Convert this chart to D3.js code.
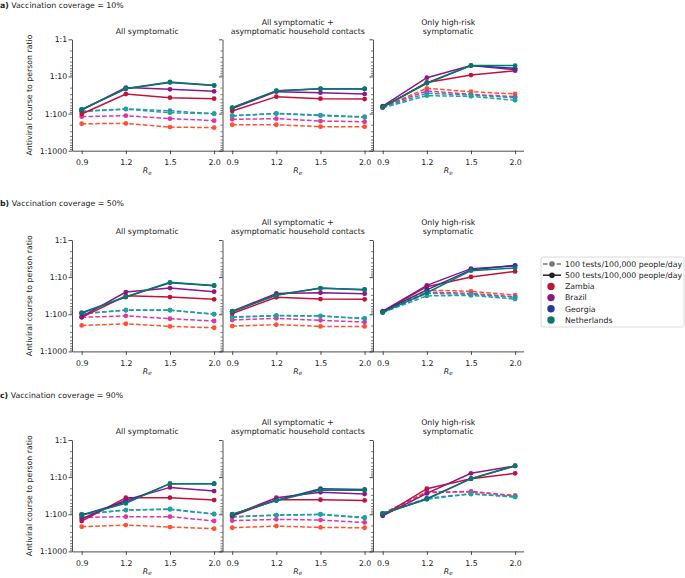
<!DOCTYPE html>
<html>
<head>
<meta charset="utf-8">
<script src="https://cdn.jsdelivr.net/npm/d3@7"></script>
<style>
  body { margin: 0; background: #fff; }
  svg { font-family: "DejaVu Sans", sans-serif; }
</style>
</head>
<body>
<svg id="chart"></svg>
<script>
// Kategorien / Beschriftungen
const reLabels = ["0.9", "1.2", "1.5", "2.0"];
const countries = ["Zambia", "Brazil", "Georgia", "Netherlands"];
const coverages = ["10%", "50%", "90%"];
const panelLetters = ["a)", "b)", "c)"];
const strategies = [
    ["All symptomatic"],
    ["All symptomatic +", "asymptomatic household contacts"],
    ["Only high-risk", "symptomatic"]
];
const testLevels = ["100 tests/100,000 people/day", "500 tests/100,000 people/day"];
const yTicks = [1, 10, 100, 1000];

// Werte = N in "1:N", Zeilen: Zambia, Brazil, Georgia, Netherlands; Spalten: Re
const cov10_allSymp_100 = [[188, 184, 231, 240], [121, 114, 137, 155], [86, 75, 84, 101], [88, 76, 95, 101]];
const cov10_allSymp_500 = [[103, 29.7, 37.3, 39.7], [80, 20, 22.3, 25.2], [78, 21.5, 14.5, 17.6], [77, 21, 14.1, 17.4]];
const cov10_allSympHH_100 = [[200, 200, 226, 226], [143, 137, 159, 166], [114, 99, 110, 122], [116, 100, 114, 126]];
const cov10_allSympHH_500 = [[85.5, 35, 39.7, 40.6], [73, 25.7, 27.4, 29.8], [70, 24.5, 21.6, 21.8], [69.5, 24.2, 21.4, 21.4]];
const cov10_highRisk_100 = [[66, 20.9, 25.8, 29.7], [65, 24.7, 30.3, 35], [68, 28.5, 31.6, 37.5], [70, 33, 34.4, 44]];
const cov10_highRisk_500 = [[68, 14.5, 9.2, 7.0], [63, 10.8, 5.1, 6.6], [66, 15, 5.1, 6.0], [67, 15.3, 5.1, 5.1]];

const cov50_allSymp_100 = [[200, 180, 212, 231], [121, 110, 132, 152], [95, 78, 78, 100], [97, 77, 77, 99]];
const cov50_allSymp_500 = [[121, 31.7, 34.4, 39.7], [116, 25.2, 19.7, 24.7], [93, 34.5, 14.2, 17], [91, 33.7, 13.8, 16.7]];
const cov50_allSympHH_100 = [[208, 191, 212, 212], [143, 129, 146, 162], [118, 108, 110, 132], [121, 110, 112, 129]];
const cov50_allSympHH_500 = [[95, 35, 39, 39.7], [83, 27.4, 26.3, 28], [86, 30, 20, 21.5], [84, 31, 19.7, 22.3]];
const cov50_highRisk_100 = [[88, 22.3, 24.2, 30.4], [88, 25.2, 27.4, 33.7], [89, 27.4, 29, 35], [90, 32, 31, 39]];
const cov50_highRisk_500 = [[86, 18.1, 9.9, 7.0], [83, 16.7, 5.9, 5.0], [85, 22, 6.4, 4.8], [89, 26.3, 6.7, 5.7]];

const cov90_allSymp_100 = [[217, 195, 221, 245], [121, 116, 116, 152], [99, 77, 72, 97], [101, 77, 74, 100]];
const cov90_allSymp_500 = [[152, 35.8, 35.8, 41.4], [132, 41.4, 18.9, 23.7], [104, 47, 15, 15], [107, 51, 15, 15]];
const cov90_allSympHH_100 = [[231, 208, 226, 231], [149, 137, 143, 166], [116, 105, 100, 122], [118, 106, 102, 126]];
const cov90_allSympHH_500 = [[112, 40.6, 40.6, 42.3], [107, 35.8, 25.7, 28.5], [101, 42, 20.5, 21.5], [99, 43, 22.3, 22.7]];
const cov90_highRisk_100 = [[96, 24.7, 25.2, 31], [96, 26.3, 24.2, 32.3], [95, 37, 28, 33.5], [95, 39, 28.5, 34.4]];
const cov90_highRisk_500 = [[108, 20.5, 11, 7.9], [110, 27.4, 7.9, 5.0], [98, 38, 11, 5.0], [95, 39.7, 11, 4.9]];

// [Impfquote][Strategie] -> [100 Tests, 500 Tests]
const panels = [
    [[cov10_allSymp_100, cov10_allSymp_500], [cov10_allSympHH_100, cov10_allSympHH_500], [cov10_highRisk_100, cov10_highRisk_500]],
    [[cov50_allSymp_100, cov50_allSymp_500], [cov50_allSympHH_100, cov50_allSympHH_500], [cov50_highRisk_100, cov50_highRisk_500]],
    [[cov90_allSymp_100, cov90_allSymp_500], [cov90_allSympHH_100, cov90_allSympHH_500], [cov90_highRisk_100, cov90_highRisk_500]]
];

// Farben
const solidColors = ["#c3123a", "#8c168c", "#26399a", "#0a7a68"];
const dashColors = ["#ff5230", "#db38a2", "#2f8cbd", "#22a19e"];

// Layout
const width = 685, height = 578;
const rowTops = [39.3, 240, 440];
const titleBase = [7.5, 205.5, 398];
const colLefts = [72, 222.5, 373];
const axW = 150.5, axH = 111.4;
const fs = "7.8px";

const svg = d3.select("#chart")
    .attr("width", width)
    .attr("height", height);

const x = d3.scaleLinear().domain([-0.22, 3.19]).range([0, axW]);
const y = d3.scaleLog().domain([1, 1000]).range([0, axH]);

const minorTicks = [];
[1, 10, 100].forEach(d => { for (let k = 2; k < 10; k++) minorTicks.push(d * k); });

const line = d3.line()
    .x((d, j) => x(j))
    .y(d => y(d));

function styleAxis(g) {
    g.attr("font-family", null).attr("font-size", fs);
    g.selectAll("path, line").attr("stroke", "#222").attr("stroke-width", 0.8);
    g.selectAll("text").attr("fill", "#222");
}

panels.forEach((row, r) => {
    // Überschrift
    const t = svg.append("text")
        .attr("x", 0)
        .attr("y", titleBase[r])
        .attr("font-size", fs)
        .attr("fill", "#222");
    t.append("tspan").attr("font-weight", "bold").text(panelLetters[r]);
    t.append("tspan").text(" Vaccination coverage = " + coverages[r]);

    row.forEach((levels, c) => {
        const g = svg.append("g")
            .attr("transform", `translate(${colLefts[c]}, ${rowTops[r]})`);

        // Achsen
        g.append("g")
            .attr("transform", `translate(0, ${axH})`)
            .call(d3.axisBottom(x).tickValues([0, 1, 2, 3]).tickFormat(i => reLabels[i])
                .tickSize(3.5).tickPadding(5.4).tickSizeOuter(0))
            .call(styleAxis);

        g.append("g")
            .call(d3.axisLeft(y).tickValues(minorTicks).tickFormat("").tickSize(2).tickSizeOuter(0))
            .call(styleAxis)
            .call(a => a.select(".domain").remove())
            .call(a => a.selectAll("line").attr("stroke-width", 0.6));

        g.append("g")
            .call(d3.axisLeft(y).tickValues(yTicks).tickFormat(c === 0 ? d => "1:" + d : "")
                .tickSize(3.5).tickPadding(1.3).tickSizeOuter(0))
            .call(styleAxis);

        // Untertitel
        const sub = strategies[c];
        sub.forEach((s, k) => {
            g.append("text")
                .attr("x", axW / 2)
                .attr("y", -5.8 - (sub.length - 1 - k) * 8.8)
                .attr("text-anchor", "middle")
                .attr("font-size", fs)
                .attr("fill", "#222")
                .text(s);
        });

        // X Label
        const xl = g.append("text")
            .attr("x", axW / 2)
            .attr("y", axH + 22.5)
            .attr("text-anchor", "middle")
            .attr("font-size", fs)
            .attr("font-style", "italic")
            .attr("fill", "#222");
        xl.append("tspan").text("R");
        xl.append("tspan").attr("font-size", "5.6px").attr("dy", 1.4).text("e");

        // Y Label
        if (c === 0) {
            g.append("text")
                .attr("transform", `translate(${31.8 - colLefts[0]}, ${axH / 2}) rotate(-90)`)
                .attr("text-anchor", "middle")
                .attr("font-size", fs)
                .attr("fill", "#222")
                .text("Antiviral course to person ratio");
        }

        // Linien: erst 100 Tests (gestrichelt), dann 500 Tests
        levels.forEach((series, lv) => {
            series.forEach((vals, i) => {
                const col = lv === 0 ? dashColors[i] : solidColors[i];
                g.append("path")
                    .datum(vals)
                    .attr("fill", "none")
                    .attr("stroke", col)
                    .attr("stroke-width", 1.5)
                    .attr("stroke-dasharray", lv === 0 ? "4.6,2.2" : null)
                    .attr("d", line);
                g.selectAll(null)
                    .data(vals)
                    .enter().append("circle")
                    .attr("cx", (d, j) => x(j))
                    .attr("cy", d => y(d))
                    .attr("r", 2.4)
                    .attr("fill", col);
            });
        });
    });
});

// Legende
const lg = svg.append("g").attr("transform", "translate(541, 257)");
lg.append("rect")
    .attr("width", 143)
    .attr("height", 70)
    .attr("rx", 2)
    .attr("fill", "#fff")
    .attr("stroke", "#d0d0d0")
    .attr("stroke-width", 0.8);

const rowY = k => 7 + k * 11.2;
const handleColors = ["#777", "#222"];
testLevels.forEach((lab, k) => {
    lg.append("line")
        .attr("x1", 2).attr("x2", 20)
        .attr("y1", rowY(k)).attr("y2", rowY(k))
        .attr("stroke", handleColors[k])
        .attr("stroke-width", 1.5)
        .attr("stroke-dasharray", k === 0 ? "4.6,2.2" : null);
    lg.append("circle")
        .attr("cx", 11).attr("cy", rowY(k))
        .attr("r", 2.8)
        .attr("fill", handleColors[k]);
    lg.append("text")
        .attr("x", 24).attr("y", rowY(k) + 2.8)
        .attr("font-size", fs)
        .attr("fill", "#222")
        .text(lab);
});
countries.forEach((name, i) => {
    const k = i + 2;
    lg.append("circle")
        .attr("cx", 10).attr("cy", rowY(k))
        .attr("r", 3.7)
        .attr("fill", solidColors[i]);
    lg.append("text")
        .attr("x", 24).attr("y", rowY(k) + 2.8)
        .attr("font-size", fs)
        .attr("fill", "#222")
        .text(name);
});
</script>
</body>
</html>
